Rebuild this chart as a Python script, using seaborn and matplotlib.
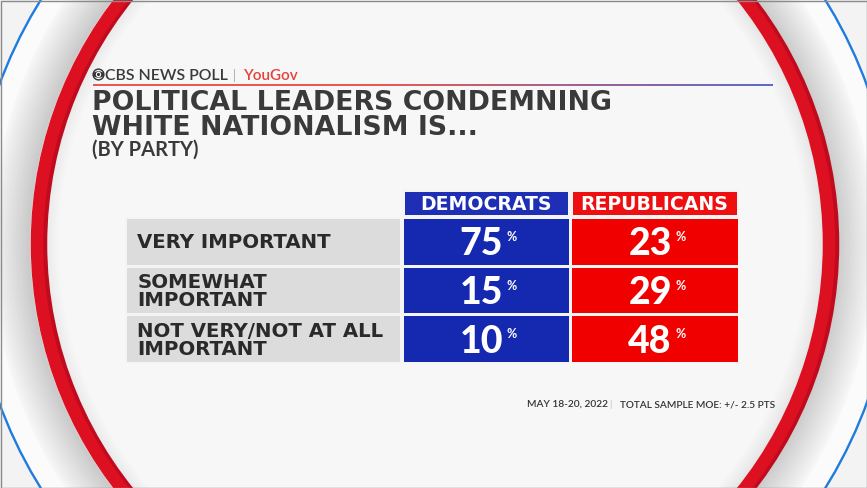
import numpy as np
import pandas as pd
import matplotlib.pyplot as plt
import seaborn as sns
from matplotlib.colors import ListedColormap, to_rgb
from matplotlib.patches import Circle, Ellipse, Rectangle
from matplotlib.collections import LineCollection

responses = ["VERY IMPORTANT", "SOMEWHAT\nIMPORTANT", "NOT VERY/NOT AT ALL\nIMPORTANT"]
parties = ["DEMOCRATS", "REPUBLICANS"]
democrats = [75, 15, 10]
republicans = [23, 29, 48]

title = "POLITICAL LEADERS CONDEMNING\nWHITE NATIONALISM IS..."
subtitle = "(BY PARTY)"
footer_date = "MAY 18-20, 2022"
footer_moe = "TOTAL SAMPLE MOE: +/- 2.5 PTS"

party_colors = ["#1428b0", "#f10000"]
head_colors = ["#1e2fb6", "#ee1010"]
gap_color = "#f4f4f4"

vals = pd.DataFrame({"DEMOCRATS": democrats, "REPUBLICANS": republicans}, index=responses)

W, H = 867, 488
sns.set_theme(style="white")
plt.rcParams["font.family"] = ["Lato", "DejaVu Sans"]
BOLD = ["DejaVu Sans"]

fig = plt.figure(figsize=(W / 100, H / 100), dpi=100)
fig.patch.set_facecolor("#f3f3f3")


def box(x0, y0, x1, y1):
    # pixel box (top-left origin) -> figure fraction
    return [x0 / W, 1 - y1 / H, (x1 - x0) / W, (y1 - y0) / H]


def mix(a, b, t):
    return tuple(np.array(to_rgb(a)) * (1 - t) + np.array(to_rgb(b)) * t)


#%% background: rings
bg = fig.add_axes([0, 0, 1, 1])
bg.set_xlim(0, W)
bg.set_ylim(H, 0)
bg.axis("off")
cx, cy, R = 433, 244, 396
bg.add_patch(Circle((cx, cy), 462, fc="#fbfbfb", ec="none"))
# grey shading just outside the red ring
for r in np.arange(440, 402, -2):
    bg.add_patch(Circle((cx, cy), r, fill=False, lw=2.2,
                        ec=mix("#cbcbcb", "#f6f6f6", (r - 404) / 36)))
bg.add_patch(Circle((cx, cy), 402, fc="#f7f7f7", ec="none"))
# soft shadow inside the red ring
for r in np.arange(374, 398, 2):
    bg.add_patch(Circle((cx, cy), r, fill=False, lw=2.2,
                        ec=mix("#f7f7f7", "#dedede", (r - 374) / 24)))
bg.add_patch(Circle((cx + 4, cy), R, fill=False, lw=12.5 * 0.72, ec="#c00a1e"))
bg.add_patch(Circle((cx, cy), R, fill=False, lw=12.5 * 0.72, ec="#dc1020"))
bg.add_patch(Circle((cx, cy), 462, fill=False, lw=1.7, ec="#1e7be0"))
bg.add_patch(Rectangle((0.5, 0.5), W - 1, H - 1, fill=False, ec="#8a8a8a", lw=1))

#%% header: logo + poll name
bg.add_patch(Circle((98.5, 74.5), 5.4, fill=False, ec="#333333", lw=1.0))
bg.add_patch(Ellipse((98.5, 74.5), 11, 6.4, fc="#333333", ec="none"))
bg.add_patch(Circle((98.5, 74.5), 2.7, fc="white", ec="none"))
bg.add_patch(Circle((98.5, 74.5), 1.6, fc="#333333", ec="none"))
bg.text(105, 80.5, "CBS NEWS POLL", fontsize=11.4, fontweight="semibold", color="#3a3a3a",
        va="baseline", ha="left")
bg.text(233, 80, "|", fontsize=9, color="#aaaaaa", va="baseline", ha="left")
bg.text(243, 80.5, "YouGov", fontsize=11, fontweight="semibold", color="#e5413b",
        va="baseline", ha="left")

xs = np.linspace(93, 773, 200)
t = np.clip((xs[:-1] - 380) / (773 - 380), 0, 1)
segs = [[(xs[k], 85), (xs[k + 1], 85)] for k in range(len(xs) - 1)]
bg.add_collection(LineCollection(segs, colors=[mix("#e53935", "#3d4fc4", v) for v in t],
                                 linewidths=1.2))

#%% title
bg.text(92, 135, title, fontsize=19.3, fontweight="bold", family=BOLD, color="#3a3a3a",
        va="baseline", ha="left", linespacing=0.95)
bg.text(92, 156, subtitle, fontsize=14.5, fontweight="bold", color="#3a3a3a",
        va="baseline", ha="left")

#%% table: party header
ax_head = fig.add_axes(box(401.5, 188.5, 738.5, 217))
sns.heatmap(np.arange(len(parties)).reshape(1, -1), ax=ax_head, cmap=ListedColormap(head_colors),
            vmin=0, vmax=1, cbar=False, linewidths=2.2, linecolor=gap_color,
            xticklabels=False, yticklabels=False)
for j, p in enumerate(parties):
    ax_head.text(j + 0.5, 0.5, p, ha="center", va="center_baseline", color="white",
                 fontsize=13.6, fontweight="bold", family=BOLD)

#%% table: row labels
ax_lab = fig.add_axes(box(124.75, 216.75, 401.25, 363.25))
sns.heatmap(np.zeros((len(responses), 1)), ax=ax_lab, cmap=ListedColormap(["#dcdcdc"]),
            cbar=False, linewidths=1.8, linecolor=gap_color, xticklabels=False, yticklabels=False)
for i, r in enumerate(responses):
    ax_lab.text(0.045, i + 0.53, r, ha="left", va="center", fontsize=14.2, fontweight="bold",
                family=BOLD, color="#2a2a2a", linespacing=0.92)

#%% table: values
col_idx = np.tile(np.arange(len(parties)), (len(responses), 1))
ax_val = fig.add_axes(box(401.5, 216.75, 738.5, 363.25))
sns.heatmap(col_idx, ax=ax_val, cmap=ListedColormap(party_colors), vmin=0, vmax=1,
            cbar=False, linewidths=1.8, linecolor=gap_color, xticklabels=False, yticklabels=False)
for i in range(len(responses)):
    for j, p in enumerate(parties):
        txt = ax_val.text(j + 0.5 - 0.025, i + 0.79, str(vals.iloc[i, j]), ha="center",
                          va="baseline", color="white", fontsize=27, fontweight="black")
        ax_val.annotate("%", xy=(1, 1), xycoords=txt, xytext=(2.5, -2.5), textcoords="offset points",
                        ha="left", va="top", color="white", fontsize=9, fontweight="bold")

#%% footer
bg.text(527, 407, footer_date, fontsize=7.3, fontweight="semibold", color="#333333",
        va="baseline", ha="left")
bg.text(609, 407, "|", fontsize=7, color="#bbbbbb", va="baseline", ha="left")
bg.text(620, 407, footer_moe, fontsize=7.3, fontweight="semibold", color="#333333",
        va="baseline", ha="left")

fig.savefig("out.png", dpi=100, facecolor=fig.get_facecolor())
